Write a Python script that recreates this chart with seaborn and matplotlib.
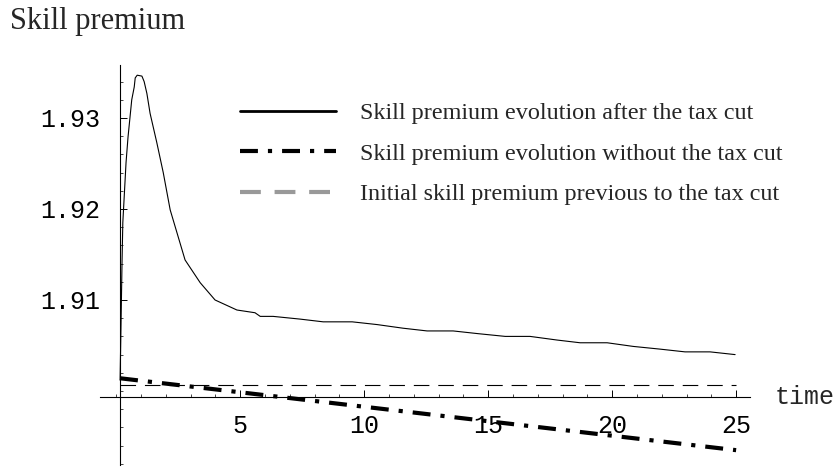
import matplotlib
matplotlib.use("Agg")
import matplotlib.pyplot as plt
import seaborn as sns
from matplotlib.lines import Line2D
from matplotlib.ticker import MultipleLocator
from matplotlib.transforms import blended_transform_factory

# skill premium after the tax cut
time_cut = [0.16, 0.24, 0.27, 0.40, 0.48, 0.63, 0.73, 0.77, 0.85, 1.04, 1.13,
            1.24, 1.37, 1.64, 1.90, 2.18, 2.78, 3.39, 3.99, 4.87, 5.60, 5.81,
            6.33, 7.42, 8.35, 9.52, 10.52, 11.57, 12.54, 13.59, 14.60, 15.69,
            16.69, 17.78, 18.71, 19.80, 20.85, 21.94, 22.94, 23.95, 24.96]
premium_cut = [1.9012, 1.9144, 1.9185, 1.9251, 1.9279, 1.9320, 1.9334, 1.9344,
               1.9347, 1.9346, 1.9340, 1.9327, 1.9305, 1.9273, 1.9240, 1.9199,
               1.9144, 1.9119, 1.9100, 1.9089, 1.9086, 1.9082, 1.9082, 1.9079,
               1.9076, 1.9076, 1.9073, 1.9069, 1.9066, 1.9066, 1.9063, 1.9060,
               1.9060, 1.9056, 1.9053, 1.9053, 1.9049, 1.9046, 1.9043, 1.9043,
               1.9040]

# without the tax cut
time_nocut = [0.16, 25.0]
premium_nocut = [1.9014, 1.8935]

# initial level before the tax cut
time_initial = [0.16, 25.0]
premium_initial = [1.90066, 1.90066]

axis_origin = (0.156, 1.89934)
x_ticks = [5, 10, 15, 20, 25]
y_ticks = [1.91, 1.92, 1.93]
y_tick_labels = ["1.91", "1.92", "1.93"]

labels = ["Skill premium evolution after the tax cut",
          "Skill premium evolution without the tax cut",
          "Initial skill premium previous to the tax cut"]

sns.set_style("ticks")
plt.rcParams["font.family"] = ["Liberation Serif", "DejaVu Serif"]

fig = plt.figure(figsize=(8.39, 4.68), dpi=100)
ax = fig.add_axes([100 / 839, 3 / 468, 650 / 839, 400 / 468])

dashdot = (0, (4.3, 2.4, 1.0, 2.4))

sns.lineplot(x=time_cut, y=premium_cut, ax=ax, color="black", lw=0.8)
sns.lineplot(x=time_nocut, y=premium_nocut, ax=ax, color="black", lw=3.0,
             linestyle=dashdot)
sns.lineplot(x=time_initial, y=premium_initial, ax=ax, color="black", lw=0.8,
             linestyle=(0, (14, 8)))

ax.set_xlim(-0.65, 25.56)
ax.set_ylim(1.89187, 1.93582)

ax.spines["top"].set_visible(False)
ax.spines["right"].set_visible(False)
ax.spines["left"].set_position(("data", axis_origin[0]))
ax.spines["bottom"].set_position(("data", axis_origin[1]))
for s in ("left", "bottom"):
    ax.spines[s].set_linewidth(0.8)
    ax.spines[s].set_color("black")

ax.set_xticks(x_ticks)
ax.set_yticks(y_ticks)
ax.set_yticklabels(y_tick_labels)
ax.xaxis.set_minor_locator(MultipleLocator(1))
ax.yaxis.set_minor_locator(MultipleLocator(0.002))
ax.tick_params(which="major", direction="in", length=5, width=0.7,
               labelsize=18, colors="black")
ax.tick_params(which="minor", direction="in", length=2.5, width=0.6)
ax.tick_params(axis="x", pad=12)
ax.tick_params(axis="y", pad=14)
for lab in ax.get_xticklabels() + ax.get_yticklabels():
    lab.set_family(["Liberation Mono", "DejaVu Sans Mono"])

ax.set_xlabel("")
ax.set_ylabel("")

trans = blended_transform_factory(ax.transAxes, ax.transData)
ax.text(1.038, axis_origin[1], "time", transform=trans, fontsize=18,
        family=["Liberation Mono", "DejaVu Sans Mono"], va="center", ha="left")

fig.text(10 / 839, 1 - 22 / 468, "Skill premium", fontsize=22,
         va="center", ha="left")

handles = [
    Line2D([], [], color="black", lw=2.0),
    Line2D([], [], color="black", lw=3.0, linestyle=dashdot),
    Line2D([], [], color="#999999", lw=3.0, linestyle=(0, (5, 3.3))),
]
ax.legend(handles, labels, frameon=False, fontsize=17.4,
          loc="upper left", bbox_to_anchor=(0.2, 0.931),
          handlelength=3.97, handletextpad=1.0, labelspacing=0.77,
          borderaxespad=0)

fig.savefig("out.png", dpi=100)
